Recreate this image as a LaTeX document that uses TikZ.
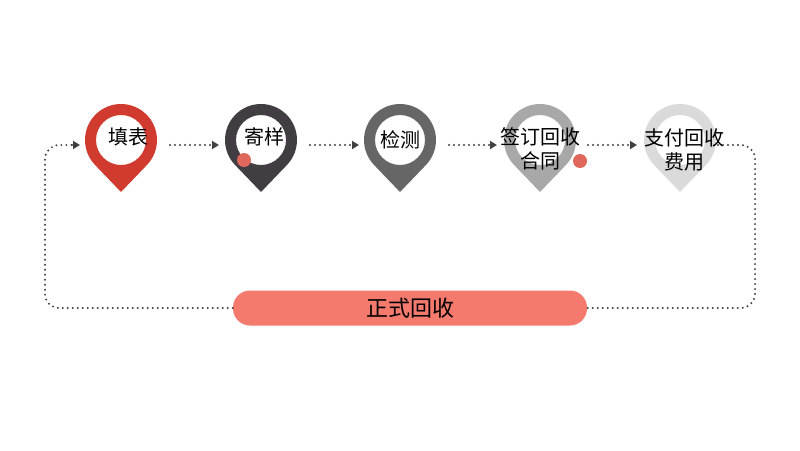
\documentclass[tikz,border=0pt]{standalone}
\usepackage{fontspec}
\newfontfamily\cjk{Noto Sans CJK SC}
\usetikzlibrary{arrows.meta}
\definecolor{pinA}{HTML}{D13A2E}
\definecolor{pinB}{HTML}{413D42}
\definecolor{pinC}{HTML}{666666}
\definecolor{pinD}{HTML}{A8A8A8}
\definecolor{pinE}{HTML}{DADADA}
\definecolor{dotred}{HTML}{E0675B}
\definecolor{barred}{HTML}{F57A6E}
\tikzset{
  link/.style={line width=2.2pt, dash pattern=on 0pt off 5pt, line cap=round, color=black!75,
    -{Triangle[length=7pt,width=8pt,line cap=butt]}},
  loop/.style={line width=2.2pt, dash pattern=on 0pt off 5pt, line cap=round, color=black!75, rounded corners=14pt},
  label/.style={font=\cjk\fontsize{20}{24}\selectfont, align=center, inner sep=0pt}
}
\begin{document}
\begin{tikzpicture}[x=1pt,y=-1pt]
\useasboundingbox (0,0) rectangle (800,450);
% pins
\foreach \name/\x/\col in {fill/121/pinA, send/261/pinB, test/400/pinC, sign/540/pinD, pay/680/pinE}{
  \fill[\col,even odd rule] (\x,192) -- ([shift={(\x,140)}]44:36)
    arc[start angle=44,end angle=-224,radius=36] -- cycle
    (\x,140) circle[radius=25];
  \coordinate (\name) at (\x,140);
}
\fill[dotred] (244,160) circle[radius=7];
\fill[dotred] (580,161) circle[radius=7];
% labels
\node[label] (tfill) at (128,137) {填表};
\node[label] (tsend) at (264,137) {寄样};
\node[label] (ttest) at (400,140) {检测};
\node[label] (tsign) at (540,149) {签订回收\\合同};
\node[label] (tpay) at (684,150) {支付回收\\费用};
% bar
\node[fill=barred, rounded corners=17pt, minimum width=354pt, minimum height=35pt,
  font=\cjk\fontsize{22}{26}\selectfont] (bar) at (410,308) {正式回收};
% connectors
\draw[link] (170,145) -- (219,145);
\draw[link] (310,145) -- (359,145);
\draw[link] (449,145) -- (497,145);
\draw[link] (588,145) -- (637,145);
\draw[loop] (bar.west) -| (45,145) -- (76,145);
\draw[link] (72,145) -- (80,145);
\draw[loop] (718,145) -| (755,308) -- (bar.east);
\end{tikzpicture}
\end{document}
